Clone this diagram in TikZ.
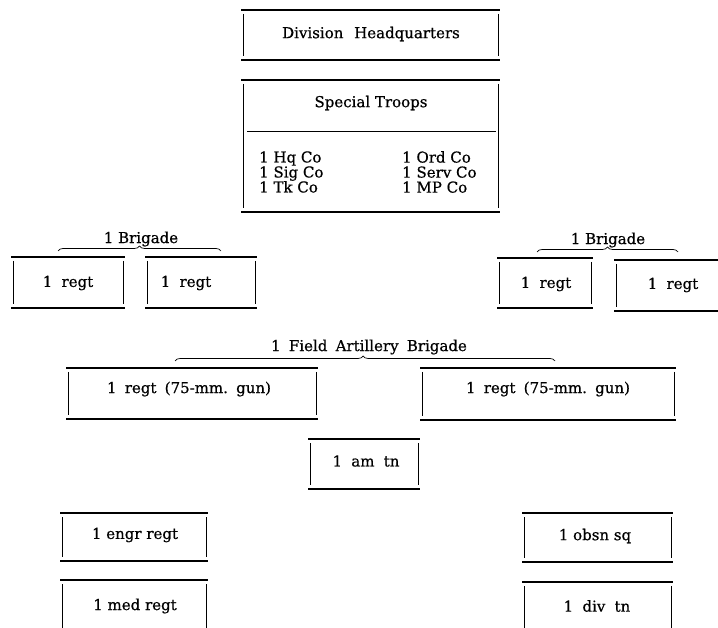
\documentclass[tikz,border=0pt]{standalone}
\usepackage{fontspec}
\setmainfont{DejaVu Serif}[BoldFont=DejaVu Serif, BoldFeatures={FakeBold=0.6}]
\usetikzlibrary{decorations.pathreplacing}
\tikzset{
  hrule/.style={line width=1.2pt, black},
  vrule/.style={line width=0.8pt, black},
  lbl/.style={inner sep=0pt, font=\fontsize{15}{15}\selectfont\bfseries},
  bracepath/.style={line width=0.7pt, decorate, decoration={brace, amplitude=5pt, aspect=#1}},
  bracepath/.default=0.5
}
\newcommand{\ruled}[5]{%
  \draw[hrule] (#2,#3) -- (#4,#3);
  \draw[hrule] (#2,#5) -- (#4,#5);
  \draw[vrule] ({#2+2},{#3+4}) -- ({#2+2},{#5-4});
  \draw[vrule] ({#4-2},{#3+4}) -- ({#4-2},{#5-4});
  \coordinate (#1) at ({(#2+#4)/2},{(#3+#5)/2});
}
\newcommand{\wsp}{\hspace{0.55em}}
\begin{document}
\begin{tikzpicture}[x=1pt,y=-1pt]
\useasboundingbox (0,0) rectangle (718,628);
\clip (0,0) rectangle (718,628);
\fill[white] (0,0) rectangle (718,628);

% Division Headquarters
\ruled{hq}{241}{10}{500}{60}
\node[lbl] (hqt) at (371,34) {Division\hspace{0.4em} Headquarters};

% Special Troops
\ruled{st}{241}{80}{500}{212}
\node[lbl] (stt) at (371,103) {Special Troops};
\coordinate (dl) at (247,131);
\coordinate (dr) at (496,131);
\draw[line width=0.9pt] (dl) -- (dr);
\node[lbl, anchor=west, align=left] (stl) at (259,172) {1 Hq Co\\1 Sig Co\\1 Tk Co};
\node[lbl, anchor=west, align=left] (str) at (402,172) {1 Ord Co\\1 Serv Co\\1 MP Co};

% Left brigade
\node[lbl] (b1) at (141,239) {1 Brigade};
\coordinate (b1l) at (58,251);
\coordinate (b1r) at (221,251);
\draw[bracepath] (b1l) -- (b1r);
\ruled{r1}{11}{257}{125}{308}
\node[lbl] (r1t) at (68,283) {1\hspace{0.3em} regt};
\ruled{r2}{145}{257}{257}{308}
\node[lbl] (r2t) at (186,283) {1\hspace{0.3em} regt};

% Right brigade
\node[lbl] (b2) at (608,240) {1 Brigade};
\coordinate (b2l) at (537,252);
\coordinate (b2r) at (678,252);
\draw[bracepath] (b2l) -- (b2r);
\ruled{r3}{497}{258}{593}{308}
\node[lbl] (r3t) at (546,284) {1\hspace{0.3em} regt};
\ruled{r4}{614}{260}{740}{311}
\node[lbl] (r4t) at (673,285) {1\hspace{0.3em} regt};

% Field Artillery Brigade
\node[lbl] (fa) at (369,347) {1\wsp Field\wsp Artillery\wsp Brigade};
\coordinate (fal) at (175,361);
\coordinate (far) at (555,361);
\draw[bracepath=0.495] (fal) -- (far);
\ruled{fa1}{66}{368}{318}{419}
\node[lbl] (fa1t) at (189,389) {1\wsp regt\wsp (75-mm.\wsp gun)};
\ruled{fa2}{420}{368}{676}{420}
\node[lbl] (fa2t) at (548,389) {1\wsp regt\wsp (75-mm.\wsp gun)};

% Ammunition train
\ruled{am}{308}{439}{420}{489}
\node[lbl] (amt) at (366,461) {1\hspace{0.3em} am\hspace{0.3em} tn};

% Engineers / medical
\ruled{en}{60}{513}{208}{561}
\node[lbl] (ent) at (135,535) {1 engr regt};
\ruled{md}{60}{580}{208}{660}
\node[lbl] (mdt) at (135,606) {1 med regt};

% Observation / division train
\ruled{ob}{522}{513}{673}{562}
\node[lbl] (obt) at (595,536) {1 obsn sq};
\ruled{dv}{522}{582}{673}{660}
\node[lbl] (dvt) at (597,606) {1\hspace{0.3em} div\hspace{0.3em} tn};
\end{tikzpicture}
\end{document}
